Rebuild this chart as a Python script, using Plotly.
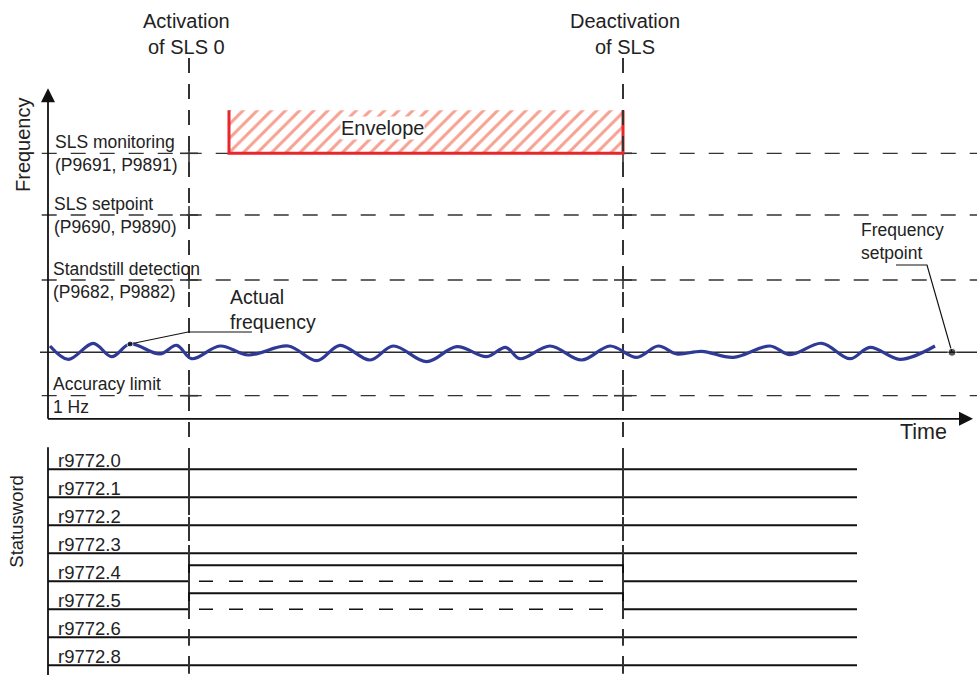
import plotly.graph_objects as go

# ---------------- data (time units / frequency units of the diagram) ----------------
t_activation = 14.1
t_deactivation = 57.5
time_axis_end = 92.5
time_axis_level = -6.65
freq_axis_top = 26.4

level_labels = ["SLS monitoring<br>(P9691, P9891)", "SLS setpoint<br>(P9690, P9890)",
                "Standstill detection<br>(P9682, P9882)", "Accuracy limit<br>1 Hz"]
level_values = [19.9, 13.73, 7.23, -4.34]
level_label_t = [0.6, 0.5, 0.35, 0.35]

envelope_start = 18.1
envelope_bottom = 19.9
envelope_top = 24.2

wave_t = [0.2, 2.03, 4.53, 6.37, 8.2, 11.2, 12.87, 14.37, 17.2, 20.03, 24.03, 26.87, 29.2,
          32.2, 34.53, 37.87, 40.87, 43.87, 45.77, 47.2, 50.2, 53.37, 56.2, 58.87, 61.03,
          62.87, 65.37, 68.53, 72.2, 74.2, 77.37, 80.2, 82.2, 85.2, 88.7]
wave_f = [0.63, -0.70, 0.90, -0.44, 0.83, -0.17, 0.70, -0.64, 0.63, -0.27, 0.63, -0.84, 0.70,
          -0.77, 0.63, -0.94, 0.56, -0.44, 0.50, -0.64, 0.63, -0.77, 0.63, -0.50, 0.63,
          -0.17, 0.10, -0.50, 0.63, -0.24, 0.90, -0.64, 0.50, -0.70, 0.63]

actual_callout_t = [8.2, 14.0, 20.4]
actual_callout_f = [0.83, 2.03, 2.03]
setpoint_callout_t = [84.8, 87.9, 90.4]
setpoint_callout_f = [8.73, 8.73, 0.0]

status_bits = ["r9772.0", "r9772.1", "r9772.2", "r9772.3", "r9772.4", "r9772.5", "r9772.6", "r9772.8"]
status_active = [0, 0, 0, 0, 1, 1, 0, 0]
status_high = 0.57
status_end = 80.9
status_axis_top = 0.79

# axis ranges (diagram canvas)
x_range = [-4.8, 92.9]
y_range = [-32.27, 35.23]
y2_range = [-7.346, 16.761]

FONT = "Liberation Sans, Arial, sans-serif"
DARK = "#2b2b2b"

fig = go.Figure()

def line(x, y, color=DARK, width=1.5, dash=None, yaxis="y", shape="linear"):
    fig.add_trace(go.Scatter(x=x, y=y, mode="lines", yaxis=yaxis,
                             line=dict(color=color, width=width, dash=dash, shape=shape),
                             hoverinfo="skip", showlegend=False))

# envelope (hatched)
fig.add_trace(go.Scatter(
    x=[envelope_start, envelope_start, t_deactivation, t_deactivation, envelope_start],
    y=[envelope_bottom, envelope_top, envelope_top, envelope_bottom, envelope_bottom],
    mode="lines", fill="toself", line=dict(width=0, color="rgba(0,0,0,0)"),
    fillcolor="rgba(0,0,0,0)",
    fillpattern=dict(shape="/", fgcolor="#ec4526", bgcolor="white", size=10, solidity=0.3),
    hoverinfo="skip", showlegend=False))

# dashed frequency levels
for lv in level_values:
    line([-0.63, x_range[1]], [lv, lv], color="#333333", width=1.3, dash="15px,14px")

# zero (frequency setpoint) line
line([-0.8, x_range[1]], [0, 0], color=DARK, width=1.6)

# crossing marks on vertical event lines
cx, cy = [], []
for tv in [t_activation, t_deactivation]:
    for lv in level_values:
        cx += [tv - 0.9, tv + 0.9, None, tv, tv, None]
        cy += [lv, lv, None, lv - 0.9, lv + 0.9, None]
line(cx, cy, color="#333333", width=1.6)

# envelope border (left, bottom, right)
line([envelope_start, envelope_start, t_deactivation, t_deactivation],
     [envelope_top, envelope_bottom, envelope_bottom, envelope_top], color="#e8262b", width=3)

# vertical event lines (span both panels)
for tv in [t_activation, t_deactivation]:
    line([tv, tv], [29.43, y_range[0]], color="#333333", width=2, dash="15px,11px")

# axes
line([0, 0], [time_axis_level, freq_axis_top - 1.0], color="#111111", width=1.8)
line([0, time_axis_end - 1.0], [time_axis_level, time_axis_level], color="#111111", width=1.8)
fig.add_trace(go.Scatter(x=[0], y=[freq_axis_top], mode="markers",
                         marker=dict(symbol="arrow-up", size=14, color="#111111"),
                         hoverinfo="skip", showlegend=False))
fig.add_trace(go.Scatter(x=[time_axis_end], y=[time_axis_level], mode="markers",
                         marker=dict(symbol="arrow-right", size=14, color="#111111"),
                         hoverinfo="skip", showlegend=False))

# actual frequency wave
line(wave_t, wave_f, color="#2f3a96", width=3.2, shape="spline")

# callouts
line(actual_callout_t, actual_callout_f, color="#111111", width=1.2)
line(setpoint_callout_t, setpoint_callout_f, color="#111111", width=1.2)
fig.add_trace(go.Scatter(x=[actual_callout_t[0], setpoint_callout_t[-1]],
                         y=[actual_callout_f[0], setpoint_callout_f[-1]], mode="markers",
                         marker=dict(size=[6, 8], color="#111111"),
                         hoverinfo="skip", showlegend=False))

# ---------------- statusword panel ----------------
line([0, 0], [status_axis_top, y2_range[0]], color="#111111", width=1.8, yaxis="y2")
sx, sy = [], []
for i, (name, act) in enumerate(zip(status_bits, status_active)):
    low = -i
    if act:
        xs = [0, t_activation, t_activation, t_deactivation, t_deactivation, status_end]
        ys = [low, low, low + status_high, low + status_high, low, low]
        line(xs, ys, color="#111111", width=2, yaxis="y2")
        line([t_activation + 1.0, t_deactivation - 1.1], [low, low], color="#111111",
             width=1.4, dash="14px,16px", yaxis="y2")
    else:
        line([0, status_end], [low, low], color="#111111", width=2, yaxis="y2")
    for tv in [t_activation, t_deactivation]:
        sx += [tv, tv, None]
        sy += [low - 0.3, low + 0.3, None]
    fig.add_annotation(x=0.75, y=low + 0.31, yref="y2", text=name, showarrow=False,
                       xanchor="left", yanchor="middle",
                       font=dict(family=FONT, size=18.5, color="#222222"))
line(sx, sy, color="#333333", width=2, yaxis="y2")

# ---------------- text ----------------
def text(x, y, s, size, xanchor="center", yref="y", angle=0, bg=None, align="left"):
    fig.add_annotation(x=x, y=y, yref=yref, text=s, showarrow=False, xanchor=xanchor,
                       yanchor="middle", textangle=angle, align=align,
                       bgcolor=bg, borderpad=0,
                       font=dict(family=FONT, size=size, color="#222222"))

for lbl, lv, lt in zip(level_labels, level_values, level_label_t):
    text(lt, lv, lbl, 17.5, xanchor="left")

text(13.8, 31.88, "Activation<br>of SLS 0", 20, align="center")
text(57.65, 31.88, "Deactivation<br>of SLS", 20, align="center")
text(18.1, 4.28, "Actual<br>frequency", 19.5, xanchor="left")
text(81.2, 11.13, "Frequency<br>setpoint", 17.5, xanchor="left")
text(87.5, -7.97, "Time", 21.5)
text(33.47, 22.4, "Envelope", 20, bg="white")
text(-2.5, 20.73, "Frequency", 20, angle=-90)
text(-3.1, -1.87, "Statusword", 18.5, angle=-90, yref="y2")

fig.update_layout(
    width=977, height=675, margin=dict(l=0, r=0, t=0, b=0),
    paper_bgcolor="white", plot_bgcolor="white", showlegend=False, hovermode=False,
    xaxis=dict(range=x_range, visible=False, fixedrange=True),
    yaxis=dict(range=y_range, visible=False, fixedrange=True),
    yaxis2=dict(range=y2_range, visible=False, overlaying="y", fixedrange=True),
)

fig.write_html("out.html", config={"displayModeBar": False},
               post_script="document.body.style.margin='0';document.body.style.overflow='hidden';")
